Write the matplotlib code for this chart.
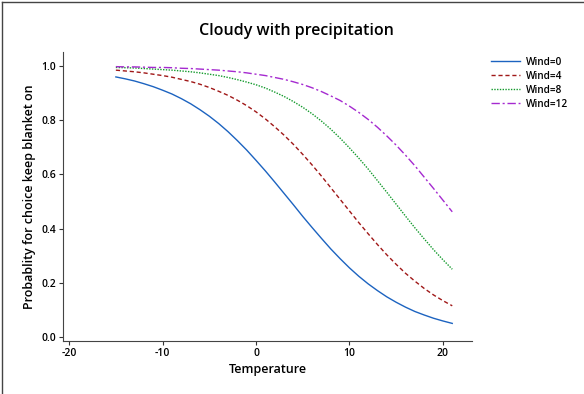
import matplotlib
matplotlib.use('Agg')
import numpy as np
from matplotlib import pyplot as plt
from matplotlib.lines import Line2D

plt.rcParams['font.family'] = ['Open Sans', 'DejaVu Sans']

# values
temperature = [-15, -14, -13, -12, -11, -10, -9, -8, -7, -6, -5, -4, -3, -2, -1, 0,
               1, 2, 3, 4, 5, 6, 7, 8, 9, 10, 11, 12, 13, 14, 15, 16, 17, 18, 19, 20, 21]
wind0 = [0.960, 0.953, 0.945, 0.935, 0.924, 0.911, 0.897, 0.880, 0.861, 0.839,
         0.815, 0.788, 0.758, 0.725, 0.690, 0.652, 0.613, 0.572, 0.530, 0.488,
         0.445, 0.404, 0.364, 0.325, 0.289, 0.255, 0.224, 0.196, 0.171, 0.148,
         0.128, 0.110, 0.094, 0.081, 0.069, 0.059, 0.050]
wind4 = [0.985, 0.982, 0.979, 0.975, 0.970, 0.965, 0.959, 0.951, 0.943, 0.933,
         0.921, 0.907, 0.892, 0.874, 0.854, 0.831, 0.805, 0.776, 0.745, 0.711,
         0.674, 0.635, 0.594, 0.551, 0.508, 0.465, 0.422, 0.381, 0.341, 0.303,
         0.268, 0.235, 0.206, 0.179, 0.155, 0.134, 0.115]
wind8 = [0.995, 0.994, 0.993, 0.991, 0.989, 0.987, 0.985, 0.982, 0.979, 0.975,
         0.970, 0.965, 0.958, 0.950, 0.941, 0.931, 0.919, 0.904, 0.888, 0.869,
         0.848, 0.824, 0.797, 0.767, 0.734, 0.698, 0.660, 0.620, 0.577, 0.534,
         0.490, 0.446, 0.403, 0.362, 0.322, 0.285, 0.250]
wind12 = [0.998, 0.997, 0.997, 0.996, 0.995, 0.995, 0.994, 0.992, 0.991, 0.989,
          0.987, 0.985, 0.982, 0.979, 0.975, 0.970, 0.965, 0.958, 0.951, 0.942,
          0.932, 0.920, 0.906, 0.890, 0.873, 0.852, 0.829, 0.803, 0.774, 0.742,
          0.708, 0.671, 0.632, 0.590, 0.548, 0.505, 0.462]
labels = ['Wind=0', 'Wind=4', 'Wind=8', 'Wind=12']
x_ticks = [-20, -10, 0, 10, 20]
y_ticks = [0.0, 0.2, 0.4, 0.6, 0.8, 1.0]

fig = plt.figure(figsize=(5.84, 3.94), dpi=100)
ax = fig.add_axes([0.108, 0.1345, 0.70, 0.7335])

ax.plot(temperature, wind0, color='#1c63c0', lw=1.0, ls='-', label=labels[0])
ax.plot(temperature, wind4, color='#a01818', lw=1.0, ls=(0, (3, 2)), label=labels[1])
ax.plot(temperature, wind8, color='#139a2c', lw=1.0, ls=(0, (1, 1)), label=labels[2])
ax.plot(temperature, wind12, color='#a52ad0', lw=1.0, ls=(0, (6, 2, 1.5, 2)), label=labels[3])

ax.set_xlim(-20.65, 23.1)
ax.set_ylim(-0.015, 1.052)
ax.set_xticks(x_ticks)
ax.set_yticks(y_ticks)
ax.set_xticklabels([str(t) for t in x_ticks])
ax.set_yticklabels(['%.1f' % t for t in y_ticks])
ax.tick_params(labelsize=7.5, length=3, width=0.8, color='#333333', pad=2)
for lab in ax.get_xticklabels() + ax.get_yticklabels():
    lab.set_fontweight('semibold')
ax.spines['top'].set_visible(False)
ax.spines['right'].set_visible(False)
ax.spines['left'].set_color('#444444')
ax.spines['bottom'].set_color('#444444')

ax.set_xlabel('Temperature', fontsize=9, fontweight='semibold', labelpad=3)
ax.set_ylabel('Probablity for choice keep blanket on', fontsize=9, fontweight='semibold', labelpad=4)
fig.text(0.507, 0.921, 'Cloudy with precipitation', ha='center', va='center',
         fontsize=11.5, fontweight='semibold')

leg = ax.legend(loc='upper left', bbox_to_anchor=(1.025, 1.015), frameon=False,
                fontsize=7.2, handlelength=2.9, handletextpad=0.6, labelspacing=0.3)
for t in leg.get_texts():
    t.set_fontweight('semibold')

# thin frame on top and left edges of the picture
fig.add_artist(Line2D([0.004, 0.004], [0, 0.996], transform=fig.transFigure, color='#444444', lw=1))
fig.add_artist(Line2D([0.004, 1], [0.996, 0.996], transform=fig.transFigure, color='#444444', lw=1))

fig.savefig('out.png', dpi=100)
